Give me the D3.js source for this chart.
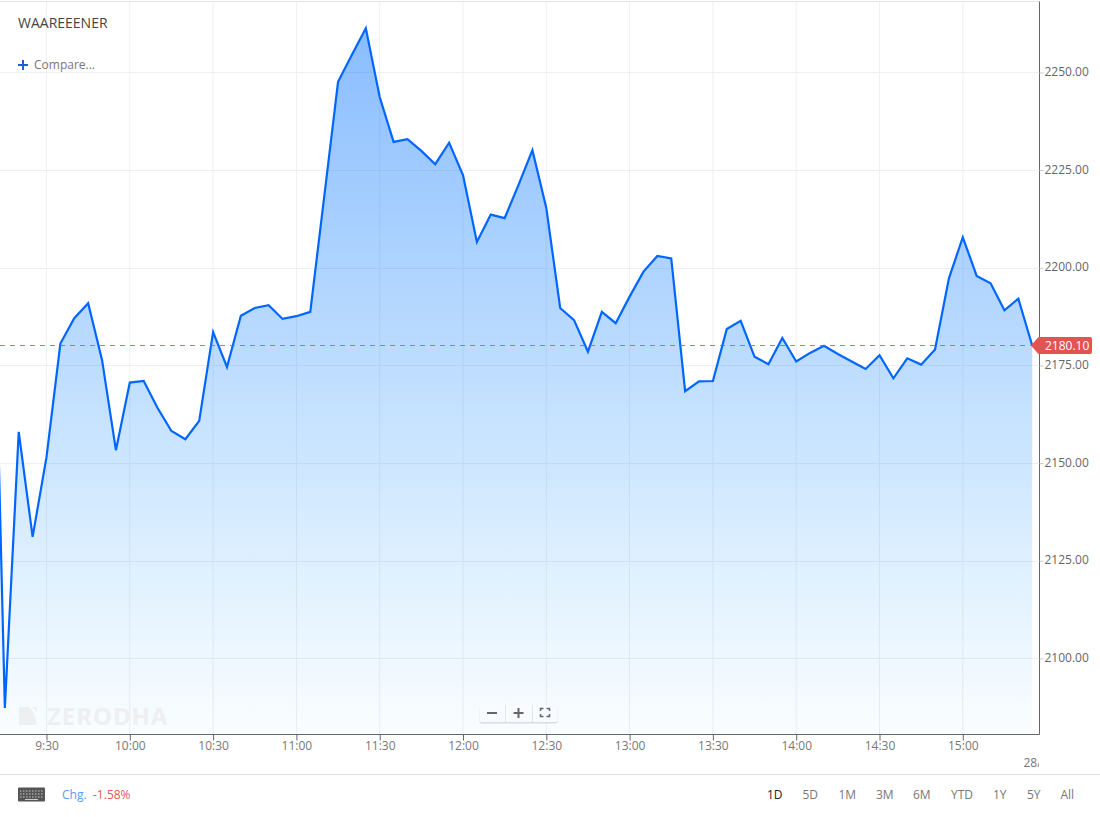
<!DOCTYPE html>
<html lang="en">
<head>
    <title>WAAREEENER intraday</title>
    <script src="https://d3js.org/d3.v7.min.js"></script>
    <style>
        html, body { margin: 0; padding: 0; background: #fff; overflow: hidden; }
        svg { display: block; font-family: "Open Sans", sans-serif; }
    </style>
</head>
<body>
<script>

// 5 minute closes, first one is the point before the open (off the left edge)
const times = [
    "9:10", "9:15", "9:20", "9:25", "9:30", "9:35", "9:40", "9:45", "9:50", "9:55",
    "10:00", "10:05", "10:10", "10:15", "10:20", "10:25", "10:30", "10:35", "10:40", "10:45", "10:50", "10:55",
    "11:00", "11:05", "11:10", "11:15", "11:20", "11:25", "11:30", "11:35", "11:40", "11:45", "11:50", "11:55",
    "12:00", "12:05", "12:10", "12:15", "12:20", "12:25", "12:30", "12:35", "12:40", "12:45", "12:50", "12:55",
    "13:00", "13:05", "13:10", "13:15", "13:20", "13:25", "13:30", "13:35", "13:40", "13:45", "13:50", "13:55",
    "14:00", "14:05", "14:10", "14:15", "14:20", "14:25", "14:30", "14:35", "14:40", "14:45", "14:50", "14:55",
    "15:00", "15:05", "15:10", "15:15", "15:20", "15:25"
];
const prices = [
    2233.0, 2087.3, 2158.0, 2131.1, 2151.5, 2180.6, 2187.1, 2190.9, 2176.4, 2153.3,
    2170.6, 2171.0, 2164.1, 2158.2, 2156.1, 2160.8, 2183.5, 2174.6, 2187.7, 2189.7, 2190.4, 2186.9,
    2187.6, 2188.7, 2218.1, 2247.6, 2254.5, 2261.3, 2243.7, 2232.2, 2232.9, 2229.9, 2226.5, 2232.0,
    2223.7, 2206.6, 2213.6, 2212.7, 2221.2, 2230.1, 2215.3, 2189.7, 2186.6, 2178.5, 2188.7, 2185.8,
    2192.6, 2199.0, 2203.0, 2202.4, 2168.4, 2170.9, 2171.0, 2184.3, 2186.4, 2177.2, 2175.3, 2182.0,
    2176.0, 2178.2, 2180.0, 2177.9, 2176.0, 2174.1, 2177.6, 2171.7, 2176.8, 2175.2, 2179.1, 2197.3,
    2207.8, 2197.9, 2196.0, 2189.1, 2192.1, 2180.1
];
const timeTicks = ["9:30", "10:00", "10:30", "11:00", "11:30", "12:00", "12:30", "13:00", "13:30", "14:00", "14:30", "15:00"];
const priceTicks = [2100, 2125, 2150, 2175, 2200, 2225, 2250];
const lastPrice = 2180.10;
const ranges = ["1D", "5D", "1M", "3M", "6M", "YTD", "1Y", "5Y", "All"];
const rangeX = [767, 802.5, 838.5, 876, 913, 951, 993, 1027, 1060.5];

const width = 1100, height = 817;
const plotRight = 1039.5, plotBottom = 734.5, plotTop = 1.5;

const parseTime = d3.timeParse("%H:%M");
const formatTime = d3.timeFormat("%-H:%M");

const x = d3.scaleTime()
    .domain([parseTime("9:30"), parseTime("15:00")])
    .range([46.5, 962.8]);
const y = d3.scaleLinear()
    .domain([2100, 2250])
    .range([658.4, 72.4]);

const points = times.map((t, i) => ({ t: parseTime(t), p: prices[i] }));

const svg = d3.select("body").append("svg")
    .attr("width", width)
    .attr("height", height);

const defs = svg.append("defs");
defs.append("clipPath").attr("id", "plot-clip")
    .append("rect")
    .attr("x", 0).attr("y", 0)
    .attr("width", plotRight).attr("height", plotBottom);

// gradient runs from the day's high down to the axis
const grad = defs.append("linearGradient").attr("id", "area-fill")
    .attr("gradientUnits", "userSpaceOnUse")
    .attr("x1", 0).attr("y1", y(d3.max(prices))).attr("x2", 0).attr("y2", plotBottom);
grad.append("stop").attr("offset", "0%").attr("stop-color", "#006eff").attr("stop-opacity", 0.46);
grad.append("stop").attr("offset", "45%").attr("stop-color", "#0079ff").attr("stop-opacity", 0.27);
grad.append("stop").attr("offset", "100%").attr("stop-color", "#0098ff").attr("stop-opacity", 0.02);

// grid lines
svg.append("g").selectAll("line").data(timeTicks).enter().append("line")
    .attr("x1", d => x(parseTime(d))).attr("x2", d => x(parseTime(d)))
    .attr("y1", plotTop).attr("y2", plotBottom)
    .attr("stroke", "#efefef");
svg.append("g").selectAll("line").data(priceTicks).enter().append("line")
    .attr("x1", 0).attr("x2", plotRight)
    .attr("y1", d => Math.round(y(d)) + 0.5).attr("y2", d => Math.round(y(d)) + 0.5)
    .attr("stroke", "#efefef");
svg.append("line")
    .attr("x1", 0).attr("x2", plotRight)
    .attr("y1", plotTop).attr("y2", plotTop)
    .attr("stroke", "#e4e4e4");

// area and line
const plot = svg.append("g").attr("clip-path", "url(#plot-clip)");
const area = d3.area()
    .x(d => x(d.t))
    .y0(plotBottom)
    .y1(d => y(d.p));
const line = d3.line()
    .x(d => x(d.t))
    .y(d => y(d.p));

plot.append("path").datum(points)
    .attr("d", area)
    .attr("fill", "url(#area-fill)");

// watermark
const mark = svg.append("g").attr("fill", "#eeeff1");
mark.append("path").attr("d", "M19 707H29Q36 713 36.5 725H19Z");
mark.append("path").attr("d", "M32 707H37V712Z");
mark.append("text")
    .attr("x", 47).attr("y", 725)
    .attr("font-size", 24).attr("font-weight", 700)
    .attr("letter-spacing", 0.9)
    .text("ZERODHA");

plot.append("path").datum(points)
    .attr("d", line)
    .attr("fill", "none")
    .attr("stroke", "#0066ff")
    .attr("stroke-width", 2.2)
    .attr("stroke-linejoin", "miter");

// last price line
const lastY = Math.round(y(lastPrice)) + 0.5;
svg.append("line")
    .attr("x1", 0).attr("x2", x(parseTime("15:25")))
    .attr("y1", lastY).attr("y2", lastY)
    .attr("stroke", "#c9504f")
    .attr("stroke-opacity", 0.8)
    .attr("stroke-dasharray", "5,5");

// axes
const xAxis = d3.axisBottom(x)
    .tickValues(timeTicks.map(parseTime))
    .tickFormat(formatTime)
    .tickSize(6)
    .tickSizeOuter(0);
const gx = svg.append("g")
    .attr("transform", "translate(0," + plotBottom + ")")
    .call(xAxis);
gx.select(".domain").attr("d", "M0,0H" + plotRight).attr("stroke", "#666");
gx.selectAll(".tick line").attr("stroke", "#666");
gx.selectAll(".tick text")
    .attr("y", 7)
    .attr("font-family", "Open Sans")
    .attr("font-size", 12)
    .attr("fill", "#777");

const yAxis = d3.axisRight(y)
    .tickValues(priceTicks)
    .tickFormat(d3.format(".2f"))
    .tickSize(4)
    .tickSizeOuter(0);
const gy = svg.append("g")
    .attr("transform", "translate(" + plotRight + ",0)")
    .call(yAxis);
gy.select(".domain").attr("d", "M0," + plotTop + "V" + plotBottom).attr("stroke", "#666");
gy.selectAll(".tick line").attr("stroke", "#ccc");
gy.selectAll(".tick text")
    .attr("x", 5)
    .attr("dy", "0.25em")
    .attr("font-family", "Open Sans")
    .attr("font-size", 12)
    .attr("fill", "#666");

// date label, cut by the plot edge like in the original
defs.append("clipPath").attr("id", "date-clip")
    .append("rect")
    .attr("x", 1000).attr("y", 750)
    .attr("width", 39).attr("height", 24);
svg.append("g").attr("clip-path", "url(#date-clip)")
    .append("text")
    .attr("x", 1023.5).attr("y", 767)
    .attr("font-size", 12).attr("fill", "#777")
    .text("28/03");

// last price label
svg.append("path")
    .attr("d", "M1031 " + lastY + "L1038 337.5Q1038.5 337 1040 337H1090Q1092 337 1092 339V352Q1092 354 1090 354H1040Q1038.5 354 1038 353.5Z")
    .attr("fill", "#e2544f");
svg.append("text")
    .attr("x", 1045).attr("y", lastY + 4.5)
    .attr("font-size", 12).attr("fill", "#fff")
    .text(d3.format(".2f")(lastPrice));

// symbol and compare
svg.append("text")
    .attr("x", 18).attr("y", 28)
    .attr("font-size", 14).attr("fill", "#444")
    .text("WAAREEENER");
svg.append("path")
    .attr("d", "M18 65H28M23 60V70")
    .attr("stroke", "#1a62d0").attr("stroke-width", 2);
svg.append("text")
    .attr("x", 34).attr("y", 69)
    .attr("font-size", 12).attr("fill", "#777")
    .text("Compare...");

// zoom buttons
const zoomBox = svg.append("g");
zoomBox.append("rect")
    .attr("x", 479.5).attr("y", 705.5).attr("width", 78).attr("height", 17).attr("rx", 2)
    .attr("fill", "#000").attr("fill-opacity", 0.12)
    .attr("transform", "translate(0,1)");
zoomBox.append("rect")
    .attr("x", 479.5).attr("y", 705).attr("width", 78).attr("height", 17).attr("rx", 2)
    .attr("fill", "#f8fbff");
zoomBox.append("path")
    .attr("d", "M505.5 705V722M532.5 705V722")
    .attr("stroke", "#e4e4e4");
zoomBox.append("path")
    .attr("d", "M487 713H497M513.5 713H523.5M518.5 708V718")
    .attr("stroke", "#666").attr("stroke-width", 2);
zoomBox.append("path")
    .attr("d", "M540.5 711V708.5H543.5M546.5 708.5H549.5V711M549.5 714V716.5H546.5M543.5 716.5H540.5V714")
    .attr("fill", "none")
    .attr("stroke", "#666").attr("stroke-width", 1.5);

// footer
svg.append("line")
    .attr("x1", 0).attr("x2", width)
    .attr("y1", 774.5).attr("y2", 774.5)
    .attr("stroke", "#e0e0e0");

const keyboard = svg.append("g");
keyboard.append("rect")
    .attr("x", 18).attr("y", 787.5).attr("width", 27).attr("height", 14).attr("rx", 1)
    .attr("fill", "#555");
keyboard.append("path")
    .attr("d", "M20 791H43M20 794H43M20 797H43")
    .attr("stroke", "#ccc").attr("stroke-dasharray", "1.5,1.5");
keyboard.append("path")
    .attr("d", "M25 799.5H38")
    .attr("stroke", "#ccc");

svg.append("text")
    .attr("x", 62).attr("y", 799)
    .attr("font-size", 12).attr("fill", "#5b9bf0")
    .text("Chg.");
svg.append("text")
    .attr("x", 93).attr("y", 799)
    .attr("font-size", 12).attr("fill", "#e8555a")
    .text("-1.58%");

svg.append("g").selectAll("text").data(ranges).enter().append("text")
    .attr("x", (d, i) => rangeX[i])
    .attr("y", 799)
    .attr("font-size", 12)
    .attr("fill", (d, i) => i === 0 ? "#222" : "#777")
    .text(d => d);

</script>
</body>
</html>
